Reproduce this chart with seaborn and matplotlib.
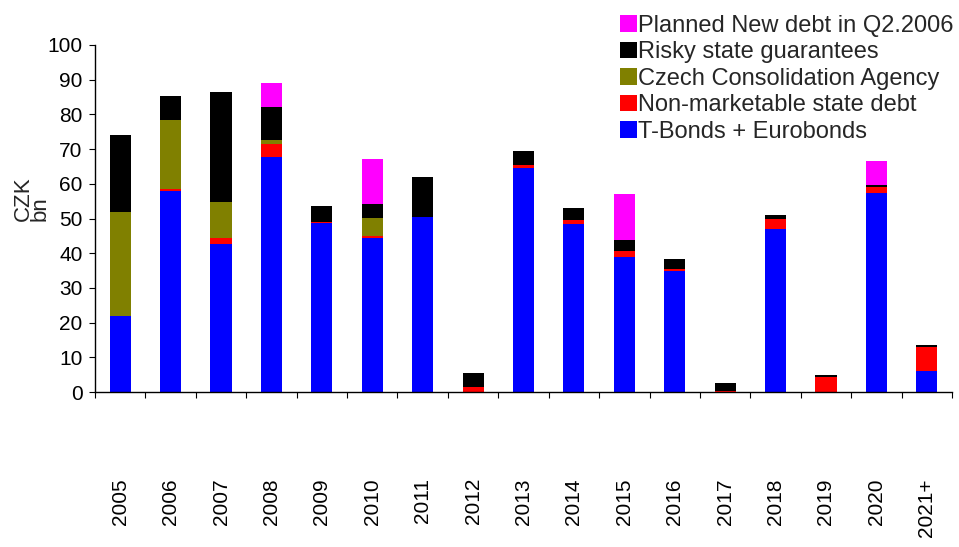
import numpy as np
import pandas as pd
import matplotlib
matplotlib.use("Agg")
import matplotlib.pyplot as plt
from matplotlib.patches import Patch
import seaborn as sns

# maturity profile, CZK bn
years = ['2005', '2006', '2007', '2008', '2009', '2010', '2011', '2012', '2013',
         '2014', '2015', '2016', '2017', '2018', '2019', '2020', '2021+']
t_bonds = [22.0, 58.0, 42.7, 67.8, 48.6, 44.4, 50.3, 0.0, 64.6,
           48.5, 39.0, 34.9, 0.0, 46.9, 0.0, 57.4, 6.1]
non_marketable = [0.0, 0.5, 1.7, 3.8, 0.4, 0.6, 0.2, 1.5, 0.8,
                  1.1, 1.7, 0.6, 0.4, 2.9, 4.4, 1.7, 6.9]
consolidation = [29.9, 19.9, 10.4, 1.1, 0.0, 5.2, 0.0, 0.0, 0.0,
                 0.0, 0.0, 0.0, 0.0, 0.0, 0.0, 0.0, 0.0]
risky = [22.2, 6.9, 31.6, 9.4, 4.6, 4.0, 11.5, 4.1, 4.1,
         3.5, 3.2, 2.9, 2.3, 1.2, 0.6, 0.6, 0.6]
planned = [0.0, 0.0, 0.0, 7.0, 0.0, 13.0, 0.0, 0.0, 0.0,
           0.0, 13.3, 0.0, 0.0, 0.0, 0.0, 6.9, 0.0]

series = ['Planned New debt in Q2.2006', 'Risky state guarantees',
          'Czech Consolidation Agency', 'Non-marketable state debt',
          'T-Bonds + Eurobonds']
colors = ['#FF00FF', '#000000', '#808000', '#FF0000', '#0000FF']

rows = []
for name, vals in zip(series, [planned, risky, consolidation, non_marketable, t_bonds]):
    for y, v in zip(years, vals):
        rows.append({'year': y, 'series': name, 'value': v})
df = pd.DataFrame(rows)

sns.set_style('white')
plt.rcParams['font.family'] = ['Liberation Sans', 'DejaVu Sans']

fig = plt.figure(figsize=(9.59, 5.47), dpi=100)
ax = fig.add_axes([95 / 959, 1 - 392 / 547, 857 / 959, 347 / 547])

sns.histplot(data=df, x='year', hue='series', weights='value', hue_order=series,
             palette=dict(zip(series, colors)), multiple='stack', discrete=True,
             shrink=0.42, alpha=1, linewidth=0, legend=False, ax=ax)

ax.set_xlim(-0.5, len(years) - 0.5)
ax.set_ylim(0, 100)
ax.set_yticks(range(0, 101, 10))
ax.set_xticks(range(len(years)))
ax.set_xticklabels(years, rotation=90)
ax.set_xticks(np.arange(-0.5, len(years), 1), minor=True)
ax.tick_params(axis='x', which='major', length=0, pad=62, labelsize=15, colors='black')
ax.tick_params(axis='x', which='minor', bottom=True, length=4, width=0.8, color='black')
ax.tick_params(axis='y', left=True, length=4, width=0.8, pad=5, labelsize=15,
               colors='black')
ax.set_xlabel('')
ax.set_ylabel('CZK\nbn', fontsize=16, multialignment='left', linespacing=0.7)
ax.yaxis.set_label_coords(-0.052, 0.556)

sns.despine(ax=ax)
for s in ['left', 'bottom']:
    ax.spines[s].set_color('black')
    ax.spines[s].set_linewidth(1)

handles = [Patch(facecolor=c, edgecolor='none') for c in colors]
fig.legend(handles, series, loc='upper right', bbox_to_anchor=(954 / 959, 1 - 15 / 547),
           frameon=False, fontsize=17, handlelength=0.7, handleheight=0.7,
           handletextpad=0.08, labelspacing=0.19, borderpad=0, borderaxespad=0)

fig.savefig('out.png', dpi=100)
